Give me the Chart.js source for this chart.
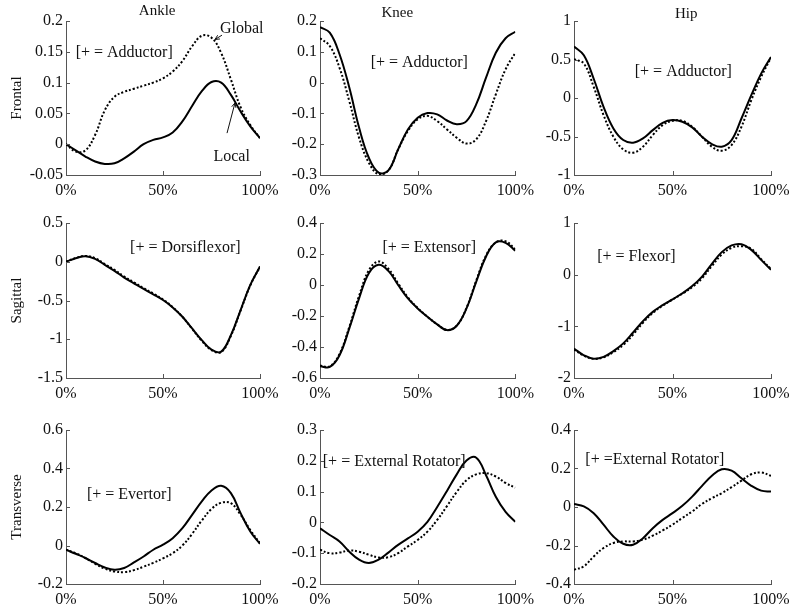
<!DOCTYPE html>
<html>
<head>
<meta charset="utf-8">
<script src="https://cdn.jsdelivr.net/npm/chart.js@4/dist/chart.umd.min.js"></script>
<style>
  body { margin: 0; background: #fff; }
  #wrap { position: relative; width: 800px; height: 613px; overflow: hidden; }
  #wrap canvas { position: absolute; }
</style>
</head>
<body>
<div id="wrap"></div>
<script>
// percent of the cycle
const pct = [0, 5, 10, 15, 20, 25, 30, 35, 40, 45, 50, 55, 60, 65, 70, 75, 80, 85, 90, 95, 100];

// Frontal (solid = Local, dotted = Global)
const ankleFrontalLocal  = [0.000, -0.010, -0.020, -0.028, -0.032, -0.031, -0.023, -0.012, 0.000, 0.007, 0.011, 0.019, 0.037, 0.062, 0.086, 0.101, 0.100, 0.080, 0.053, 0.029, 0.010];
const ankleFrontalGlobal = [0.000, -0.012, -0.010, 0.015, 0.055, 0.077, 0.085, 0.090, 0.095, 0.100, 0.107, 0.118, 0.135, 0.159, 0.176, 0.173, 0.148, 0.105, 0.060, 0.031, 0.010];
const kneeFrontalLocal   = [0.180, 0.162, 0.092, -0.016, -0.146, -0.244, -0.292, -0.285, -0.217, -0.152, -0.114, -0.099, -0.103, -0.123, -0.135, -0.125, -0.070, 0.016, 0.097, 0.144, 0.165];
const kneeFrontalGlobal  = [0.144, 0.119, 0.048, -0.060, -0.179, -0.260, -0.298, -0.285, -0.217, -0.157, -0.119, -0.108, -0.125, -0.152, -0.179, -0.198, -0.184, -0.125, -0.038, 0.043, 0.097];
const hipFrontalLocal    = [0.67, 0.555, 0.25, -0.115, -0.395, -0.546, -0.58, -0.525, -0.417, -0.322, -0.287, -0.309, -0.382, -0.503, -0.598, -0.633, -0.547, -0.266, 0.037, 0.317, 0.533];
const hipFrontalGlobal   = [0.503, 0.447, 0.145, -0.222, -0.503, -0.667, -0.71, -0.633, -0.482, -0.352, -0.296, -0.296, -0.374, -0.503, -0.633, -0.685, -0.611, -0.374, -0.028, 0.274, 0.525];

// Sagittal
const ankleSagittalLocal  = [0.0, 0.046, 0.072, 0.038, -0.04, -0.118, -0.204, -0.278, -0.351, -0.42, -0.494, -0.589, -0.71, -0.861, -1.012, -1.135, -1.16, -0.947, -0.623, -0.299, -0.062];
const ankleSagittalGlobal = [0.0, 0.048, 0.075, 0.045, -0.03, -0.105, -0.19, -0.265, -0.34, -0.41, -0.487, -0.585, -0.71, -0.865, -1.02, -1.14, -1.165, -0.955, -0.63, -0.305, -0.065];
const kneeSagittalLocal   = [-0.524, -0.529, -0.453, -0.28, -0.086, 0.076, 0.13, 0.091, 0.0, -0.086, -0.151, -0.205, -0.254, -0.291, -0.263, -0.151, 0.022, 0.184, 0.275, 0.272, 0.221];
const kneeSagittalGlobal  = [-0.52, -0.525, -0.445, -0.27, -0.07, 0.095, 0.152, 0.105, 0.01, -0.08, -0.148, -0.205, -0.254, -0.29, -0.262, -0.148, 0.03, 0.19, 0.275, 0.282, 0.23];
const hipSagittalLocal    = [-1.43, -1.56, -1.625, -1.59, -1.48, -1.33, -1.12, -0.9, -0.72, -0.59, -0.478, -0.36, -0.22, -0.037, 0.21, 0.436, 0.566, 0.59, 0.48, 0.287, 0.093];
const hipSagittalGlobal   = [-1.45, -1.57, -1.63, -1.6, -1.5, -1.36, -1.16, -0.93, -0.74, -0.6, -0.48, -0.37, -0.24, -0.07, 0.17, 0.39, 0.52, 0.55, 0.5, 0.3, 0.11];

// Transverse
const ankleTransverseLocal  = [-0.022, -0.043, -0.065, -0.091, -0.114, -0.126, -0.117, -0.088, -0.057, -0.022, 0.004, 0.038, 0.09, 0.159, 0.229, 0.286, 0.31, 0.272, 0.168, 0.073, 0.009];
const ankleTransverseGlobal = [-0.022, -0.04, -0.065, -0.095, -0.12, -0.135, -0.138, -0.128, -0.11, -0.09, -0.067, -0.04, 0.0, 0.06, 0.13, 0.19, 0.222, 0.22, 0.16, 0.08, 0.012];
const kneeTransverseLocal   = [-0.019, -0.041, -0.062, -0.095, -0.121, -0.132, -0.121, -0.098, -0.073, -0.052, -0.03, 0.002, 0.05, 0.102, 0.156, 0.201, 0.21, 0.153, 0.083, 0.034, 0.002];
const kneeTransverseGlobal  = [-0.089, -0.1, -0.098, -0.091, -0.095, -0.105, -0.114, -0.113, -0.1, -0.078, -0.057, -0.03, 0.008, 0.053, 0.099, 0.137, 0.156, 0.16, 0.149, 0.128, 0.113];
const hipTransverseLocal    = [0.016, 0.003, -0.032, -0.092, -0.153, -0.191, -0.196, -0.162, -0.11, -0.067, -0.032, 0.006, 0.054, 0.11, 0.162, 0.196, 0.189, 0.149, 0.11, 0.085, 0.08];
const hipTransverseGlobal   = [-0.326, -0.308, -0.257, -0.213, -0.187, -0.179, -0.179, -0.17, -0.149, -0.122, -0.092, -0.057, -0.023, 0.016, 0.046, 0.072, 0.103, 0.137, 0.17, 0.179, 0.162];

// axis ranges [min, max, step]
const yRanges = [
  [-0.05, 0.2, 0.05], [-0.3, 0.2, 0.1], [-1, 1, 0.5],
  [-1.5, 0.5, 0.5],   [-0.6, 0.4, 0.2], [-2, 1, 1],
  [-0.2, 0.6, 0.2],   [-0.2, 0.3, 0.1], [-0.4, 0.4, 0.2]
];
const xTicks = [0, 50, 100];
const jointNames = ['Ankle', 'Knee', 'Hip'];
const planeNames = ['Frontal', 'Sagittal', 'Transverse'];

const series = [
  [ankleFrontalLocal, ankleFrontalGlobal], [kneeFrontalLocal, kneeFrontalGlobal], [hipFrontalLocal, hipFrontalGlobal],
  [ankleSagittalLocal, ankleSagittalGlobal], [kneeSagittalLocal, kneeSagittalGlobal], [hipSagittalLocal, hipSagittalGlobal],
  [ankleTransverseLocal, ankleTransverseGlobal], [kneeTransverseLocal, kneeTransverseGlobal], [hipTransverseLocal, hipTransverseGlobal]
];

// notes inside each panel: [text, x%, y]
const notes = [
  [['[+ = Adductor]', 30, 0.148], ['Global', 90.6, 0.188], ['Local', 85.4, -0.02]],
  [['[+ = Adductor]', 50.8, 0.065]],
  [['[+ = Adductor]', 55.5, 0.339]],
  [['[+ = Dorsiflexor]', 61.5, 0.176]],
  [['[+ = Extensor]', 55.9, 0.238]],
  [['[+ = Flexor]', 31.7, 0.352]],
  [['[+ = Evertor]', 32.6, 0.263]],
  [['[+ = External Rotator]', 38, 0.196]],
  [['[+ =External Rotator]', 41, 0.244]]
];
// arrows [x1, y1, x2 (head), y2 (head)]
const arrows = [
  [[80.4, 0.177, 76.8, 0.170], [83, 0.018, 87.1, 0.067]],
  [], [], [], [], [], [], [], []
];

// layout of the grid (page pixels)
const cols = [
  { left: 0,   width: 285, plotL: 66,  plotR: 260, titleX: 47,   titleY: 11 },
  { left: 270, width: 270, plotL: 320, plotR: 517, titleX: 39.6, titleY: 13 },
  { left: 530, width: 270, plotL: 574, plotR: 771, titleX: 57,   titleY: 14 }
];
const rows = [
  { top: 0,   height: 200, plotT: 21,  plotB: 175 },
  { top: 198, height: 207, plotT: 223, plotB: 378 },
  { top: 405, height: 208, plotT: 430, plotB: 584 }
];

const FONT = '"Liberation Serif", "Times New Roman", serif';

const panelText = {
  id: 'panelText',
  afterDraw(chart, args, opts) {
    const { ctx, chartArea, scales: { x, y } } = chart;
    ctx.save();
    // inward tick marks
    ctx.strokeStyle = '#555';
    ctx.lineWidth = 1;
    ctx.beginPath();
    x.ticks.forEach(t => {
      const px = Math.round(x.getPixelForValue(t.value)) + 0.5;
      ctx.moveTo(px, chartArea.bottom);
      ctx.lineTo(px, chartArea.bottom - 4);
    });
    y.ticks.forEach(t => {
      const py = Math.round(y.getPixelForValue(t.value)) + 0.5;
      ctx.moveTo(chartArea.left, py);
      ctx.lineTo(chartArea.left + 4, py);
    });
    ctx.stroke();

    ctx.fillStyle = '#111';
    ctx.textBaseline = 'middle';
    ctx.textAlign = 'center';
    if (opts.title) {
      ctx.font = '15px ' + FONT;
      ctx.fillText(opts.title, x.getPixelForValue(opts.titleX), opts.titleY);
    }
    ctx.font = '16px ' + FONT;
    opts.notes.forEach(([text, nx, ny]) => {
      ctx.fillText(text, x.getPixelForValue(nx), y.getPixelForValue(ny));
    });
    ctx.strokeStyle = '#111';
    opts.arrows.forEach(([x1, y1, x2, y2]) => {
      const ax = x.getPixelForValue(x1), ay = y.getPixelForValue(y1);
      const bx = x.getPixelForValue(x2), by = y.getPixelForValue(y2);
      const ang = Math.atan2(by - ay, bx - ax);
      ctx.beginPath();
      ctx.moveTo(ax, ay);
      ctx.lineTo(bx, by);
      ctx.moveTo(bx - 5 * Math.cos(ang - 0.45), by - 5 * Math.sin(ang - 0.45));
      ctx.lineTo(bx, by);
      ctx.lineTo(bx - 5 * Math.cos(ang + 0.45), by - 5 * Math.sin(ang + 0.45));
      ctx.stroke();
    });
    ctx.restore();
  }
};

const wrap = document.getElementById('wrap');

series.forEach(([local, global], i) => {
  const r = rows[Math.floor(i / 3)], c = cols[i % 3];
  const [ymin, ymax, ystep] = yRanges[i];
  const cv = document.createElement('canvas');
  cv.width = c.width; cv.height = r.height;
  cv.style.left = c.left + 'px'; cv.style.top = r.top + 'px';
  cv.style.width = c.width + 'px'; cv.style.height = r.height + 'px';
  wrap.appendChild(cv);

  const toPts = arr => arr.map((v, k) => ({ x: pct[k], y: v }));

  new Chart(cv, {
    type: 'line',
    data: {
      datasets: [
        { label: 'Local', data: toPts(local), borderColor: '#000', borderWidth: 2,
          pointRadius: 0, tension: 0.4, fill: false },
        { label: 'Global', data: toPts(global), borderColor: '#000', borderWidth: 2,
          borderDash: [2, 2], pointRadius: 0, tension: 0.4, fill: false }
      ]
    },
    options: {
      responsive: false,
      animation: false,
      layout: { padding: { top: r.plotT - r.top, right: c.left + c.width - c.plotR, left: 0, bottom: 0 } },
      plugins: {
        legend: { display: false },
        tooltip: { enabled: false },
        panelText: {
          title: i < 3 ? jointNames[i] : null,
          titleX: c.titleX, titleY: c.titleY,
          notes: notes[i], arrows: arrows[i]
        }
      },
      scales: {
        x: {
          type: 'linear', min: 0, max: 100,
          afterBuildTicks: s => { s.ticks = xTicks.map(v => ({ value: v })); },
          ticks: { callback: v => v + '%', padding: 6, color: '#111', font: { family: FONT, size: 16 }, maxRotation: 0 },
          grid: { display: false, drawTicks: false },
          border: { color: '#555', width: 1 },
          afterFit: s => { s.height = r.top + r.height - r.plotB; }
        },
        y: {
          min: ymin, max: ymax,
          ticks: { stepSize: ystep, callback: v => String(+v.toFixed(2)), padding: 3, color: '#111', font: { family: FONT, size: 16 } },
          grid: { display: false, drawTicks: false },
          border: { color: '#555', width: 1 },
          title: { display: i % 3 === 0, text: planeNames[Math.floor(i / 3)], color: '#111',
                   font: { family: FONT, size: 15 }, padding: { top: 8, bottom: 0 } },
          afterFit: s => { s.width = c.plotL - c.left; }
        }
      }
    },
    plugins: [panelText]
  });
});
</script>
</body>
</html>
